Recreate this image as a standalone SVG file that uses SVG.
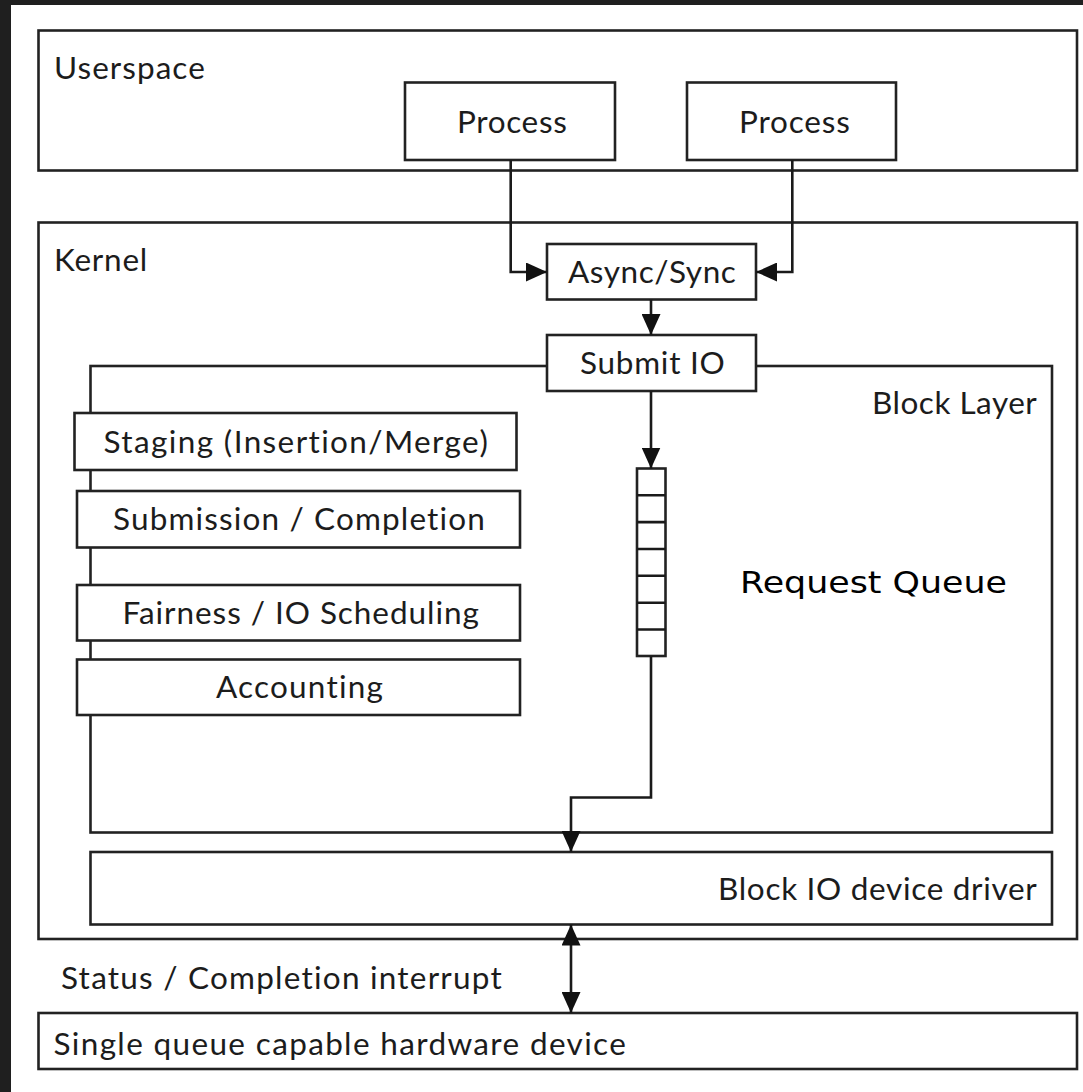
<svg xmlns="http://www.w3.org/2000/svg" width="1083" height="1092" viewBox="0 0 1083 1092">
  <style>
    .box { fill: #ffffff; stroke: #222222; stroke-width: 2.6; }
    .wire { fill: none; stroke: #1a1a1a; stroke-width: 2.6; }
    .lbl { font-family: Lato, "Liberation Sans", sans-serif; font-size: 31.5px; fill: #1c1c1c; letter-spacing: 0.2px; font-variant-ligatures: none; font-feature-settings: "liga" 0, "clig" 0, "calt" 0, "dlig" 0; }
    .big { font-family: "DejaVu Sans", Verdana, sans-serif; font-size: 31px; fill: #000000; }
  </style>
  <defs>
    <marker id="arrow" markerUnits="userSpaceOnUse" markerWidth="21" markerHeight="19" refX="21" refY="9.5" orient="auto-start-reverse">
      <path d="M0,0 L21,9.5 L0,19 Z" fill="#111111"/>
    </marker>
  </defs>

  <!-- frame -->
  <rect x="0" y="0" width="1083" height="1092" fill="#1f1f1f"/>
  <rect x="11" y="5" width="1072" height="1087" fill="#ffffff"/>

  <!-- userspace layer -->
  <g id="userspace">
    <rect class="box" x="38.5" y="30.5" width="1038.5" height="140"/>
    <text class="lbl" x="54" y="79" textLength="151" lengthAdjust="spacing">Userspace</text>
  </g>
  <g id="process-1">
    <rect class="box" x="405" y="82.5" width="210" height="77.5"/>
    <text class="lbl" x="457" y="133" textLength="110" lengthAdjust="spacing">Process</text>
  </g>
  <g id="process-2">
    <rect class="box" x="687" y="82.5" width="209" height="77.5"/>
    <text class="lbl" x="739" y="133" textLength="111" lengthAdjust="spacing">Process</text>
  </g>

  <!-- kernel layer -->
  <g id="kernel">
    <rect class="box" x="38.5" y="222.5" width="1038.5" height="716.5"/>
    <text class="lbl" x="54" y="271" textLength="93.5" lengthAdjust="spacing">Kernel</text>
  </g>
  <g id="block-layer">
    <rect class="box" x="90.5" y="366" width="961.5" height="466.5"/>
    <text class="lbl" x="872" y="414" textLength="165" lengthAdjust="spacing">Block Layer</text>
  </g>
  <g id="async-sync">
    <rect class="box" x="547" y="244" width="209" height="55.5"/>
    <text class="lbl" x="568" y="283" textLength="168" lengthAdjust="spacing">Async/Sync</text>
  </g>
  <g id="submit-io">
    <rect class="box" x="547" y="335" width="209" height="56"/>
    <text class="lbl" x="580" y="373.5" textLength="145" lengthAdjust="spacing">Submit IO</text>
  </g>
  <g id="staging">
    <rect class="box" x="74.5" y="413" width="442" height="57"/>
    <text class="lbl" x="103.5" y="453" textLength="384.5" lengthAdjust="spacing">Staging (Insertion/Merge)</text>
  </g>
  <g id="submission">
    <rect class="box" x="77" y="491" width="443" height="56.5"/>
    <text class="lbl" x="113" y="530" textLength="372" lengthAdjust="spacing">Submission / Completion</text>
  </g>
  <g id="fairness">
    <rect class="box" x="77" y="585" width="443" height="55.5"/>
    <text class="lbl" x="122.5" y="623.5" textLength="356.5" lengthAdjust="spacing">Fairness / IO Scheduling</text>
  </g>
  <g id="accounting">
    <rect class="box" x="77" y="659.5" width="443" height="55.5"/>
    <text class="lbl" x="216" y="698" textLength="167" lengthAdjust="spacing">Accounting</text>
  </g>
  <g id="request-queue">
    <rect class="box" x="637" y="468.5" width="28.5" height="187.5"/>
    <path class="wire" d="M637,495.3 H665.5 M637,522.1 H665.5 M637,549 H665.5 M637,575.8 H665.5 M637,602.7 H665.5 M637,629.5 H665.5"/>
    <text class="big" x="740" y="593" textLength="267" lengthAdjust="spacingAndGlyphs">Request Queue</text>
  </g>
  <g id="device-driver">
    <rect class="box" x="90.5" y="852" width="961.5" height="72.5"/>
    <text class="lbl" x="718" y="900" textLength="319" lengthAdjust="spacing">Block IO device driver</text>
  </g>

  <!-- hardware -->
  <text class="lbl" x="61" y="989" textLength="441" lengthAdjust="spacing">Status / Completion interrupt</text>
  <g id="hardware">
    <rect class="box" x="38.5" y="1013" width="1038.5" height="56"/>
    <text class="lbl" x="53.5" y="1055" textLength="572.5" lengthAdjust="spacing">Single queue capable hardware device</text>
  </g>

  <!-- connectors -->
  <g id="connectors">
    <path class="wire" d="M510.7,160 V272 H547" marker-end="url(#arrow)"/>
    <path class="wire" d="M792.3,160 V272 H756" marker-end="url(#arrow)"/>
    <path class="wire" d="M651,299.5 V335" marker-end="url(#arrow)"/>
    <path class="wire" d="M651,391 V468.5" marker-end="url(#arrow)"/>
    <path class="wire" d="M651,656 V797.5 H571 V852" marker-end="url(#arrow)"/>
    <path class="wire" d="M571,924.5 V1013" marker-start="url(#arrow)" marker-end="url(#arrow)"/>
  </g>
</svg>
